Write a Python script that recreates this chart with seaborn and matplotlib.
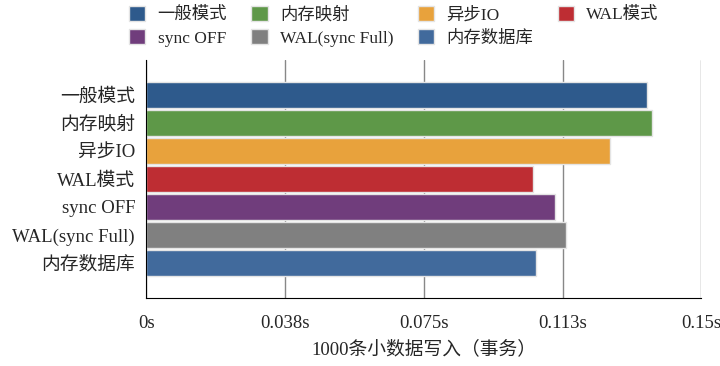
import pandas as pd
import matplotlib.pyplot as plt
import seaborn as sns

modes = ['一般模式', '内存映射', '异步IO', 'WAL模式', 'sync OFF', 'WAL(sync Full)', '内存数据库']
seconds = [0.1354, 0.1368, 0.1254, 0.1046, 0.1105, 0.1135, 0.1054]
colors = ['#2e5a8c', '#5e9848', '#e8a23c', '#be2d33', '#703d7c', '#808080', '#416a9c']
tick_values = [0, 0.0375, 0.075, 0.1125, 0.15]
tick_labels = ['0s', '0.038s', '0.075s', '0.113s', '0.15s']

sns.set_style('white')
plt.rcParams['font.family'] = ['Liberation Serif', 'Noto Sans CJK SC']

df = pd.DataFrame({'mode': modes, 'time': seconds})

fig = plt.figure(figsize=(7.2, 3.66), dpi=100)
ax = fig.add_axes([0.203, 0.186, 0.771, 0.65])

sns.barplot(data=df, x='time', y='mode', hue='mode', palette=colors, dodge=False, saturation=1,
            orient='h', width=0.94, edgecolor='#e4e4e4', linewidth=1, ax=ax, legend=True)

ax.set_xlim(0, 0.15)
ax.set_ylim(6.5 + 0.75, -0.5 - 0.75)
ax.set_xticks(tick_values)
ax.set_xticklabels(tick_labels)
ax.set_xlabel('1000条小数据写入（事务）', fontsize=13.5, labelpad=6)
ax.set_ylabel('')
ax.grid(axis='x', color='#888888', linewidth=1)
ax.set_axisbelow(True)
ax.tick_params(axis='x', length=4, width=1, color='black', pad=8, labelsize=13.5)
ax.tick_params(axis='y', length=0, pad=8, labelsize=13.5)
for s in ['top', 'right']:
    ax.spines[s].set_visible(False)
ax.spines['left'].set_color('black')
ax.spines['bottom'].set_color('black')

# legend row by row: matplotlib fills columns first, so reorder
handles, labels = ax.get_legend_handles_labels()
order = [0, 4, 1, 5, 2, 6, 3]
ax.legend([handles[i] for i in order], [labels[i] for i in order],
          loc='lower center', bbox_to_anchor=(0.446, 0.99), ncol=4, frameon=False,
          fontsize=12.5, handlelength=0.95, handleheight=0.95,
          columnspacing=1.4, handletextpad=0.7, labelspacing=0.35)

plt.savefig('out.png', dpi=100)
